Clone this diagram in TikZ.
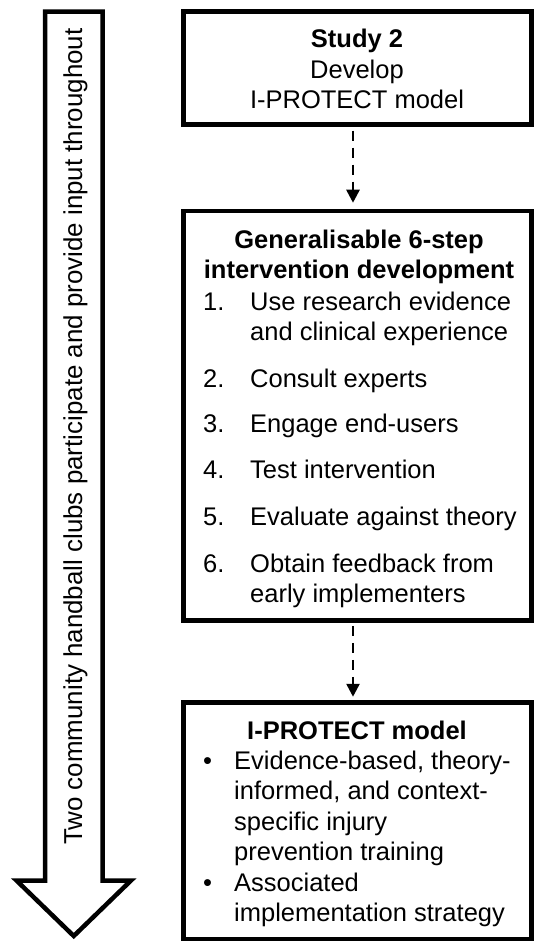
\documentclass[tikz,border=0pt]{standalone}
\usepackage{fontspec}
\setmainfont{Liberation Sans}
\usetikzlibrary{arrows.meta}
\tikzset{
  box/.style={draw, line width=4.5pt, inner sep=0pt, minimum width=348pt},
  txt/.style={inner sep=0pt, font=\fontsize{25.5}{30}\selectfont},
  sidetxt/.style={inner sep=0pt, font=\fontsize{25.9}{30}\selectfont},
  ttl/.style={inner sep=0pt, font=\fontsize{25.5}{30}\selectfont\bfseries},
  flow/.style={line width=2.6pt, dash pattern=on 10pt off 7pt, -{Triangle[width=13pt,length=13pt]}},
  bigarrow/.style={draw, line width=4.5pt, line join=miter, fill=white}
}
\begin{document}
\begin{tikzpicture}[x=1pt,y=-1pt]
\useasboundingbox (0,0) rectangle (534,941);
% boxes
\node[box, minimum height=112.8pt] (b1) at (357.5,68.1) {};
\node[box, minimum height=409.5pt] (b2) at (357.5,415.75) {};
\node[box, minimum height=236.5pt] (b3) at (357.5,820.75) {};
% big left arrow
\draw[bigarrow] (45,11.7) -- (102.5,11.7) -- (102.5,880.5) -- (131,880.5) -- (73.75,936) -- (16.5,880.5) -- (45,880.5) -- cycle;
\node[sidetxt, rotate=90, anchor=base] (side) at (82,436.5) {Two community handball clubs participate and provide input throughout};
% box 1 text
\node[ttl, anchor=base] (s1) at (357,48) {Study 2};
\node[txt, anchor=base] (s2) at (357,78.5) {Develop};
\node[txt, anchor=base] (s3) at (357,109) {I-PROTECT model};
% box 2 text
\node[ttl, anchor=base] (g1) at (359,248) {Generalisable 6-step};
\node[ttl, anchor=base] (g2) at (359,278) {intervention development};
\node[txt, anchor=base west] (n1) at (203,310) {1.};
\node[txt, anchor=base west] (i1a) at (250,310) {Use research evidence};
\node[txt, anchor=base west] (i1b) at (250,340) {and clinical experience};
\node[txt, anchor=base west] (n2) at (203,387) {2.};
\node[txt, anchor=base west] (i2) at (250,387) {Consult experts};
\node[txt, anchor=base west] (n3) at (203,432) {3.};
\node[txt, anchor=base west] (i3) at (250,432) {Engage end-users};
\node[txt, anchor=base west] (n4) at (203,478) {4.};
\node[txt, anchor=base west] (i4) at (250,478) {Test intervention};
\node[txt, anchor=base west] (n5) at (203,525) {5.};
\node[txt, anchor=base west] (i5) at (250,525) {Evaluate against theory};
\node[txt, anchor=base west] (n6) at (203,572) {6.};
\node[txt, anchor=base west] (i6a) at (250,572) {Obtain feedback from};
\node[txt, anchor=base west] (i6b) at (250,602) {early implementers};
% box 3 text
\node[ttl, anchor=base] (m0) at (357,739) {I-PROTECT model};
\node[txt, anchor=base west] (p1) at (203,769) {•};
\node[txt, anchor=base west] (m1) at (234,769) {Evidence-based, theory-};
\node[txt, anchor=base west] (m2) at (234,799.5) {informed, and context-};
\node[txt, anchor=base west] (m3) at (234,830) {specific injury};
\node[txt, anchor=base west] (m4) at (234,860.5) {prevention training};
\node[txt, anchor=base west] (p2) at (203,891) {•};
\node[txt, anchor=base west] (m5) at (234,891) {Associated};
\node[txt, anchor=base west] (m6) at (234,921.5) {implementation strategy};
% connectors
\draw[flow, shorten <=4pt, shorten >=6pt] ([xshift=-4.5pt]b1.south) -- ([xshift=-4.5pt]b2.north);
\draw[flow, shorten <=3pt, shorten >=3.5pt] ([xshift=-4.5pt]b2.south) -- ([xshift=-4.5pt]b3.north);
\end{tikzpicture}
\end{document}
